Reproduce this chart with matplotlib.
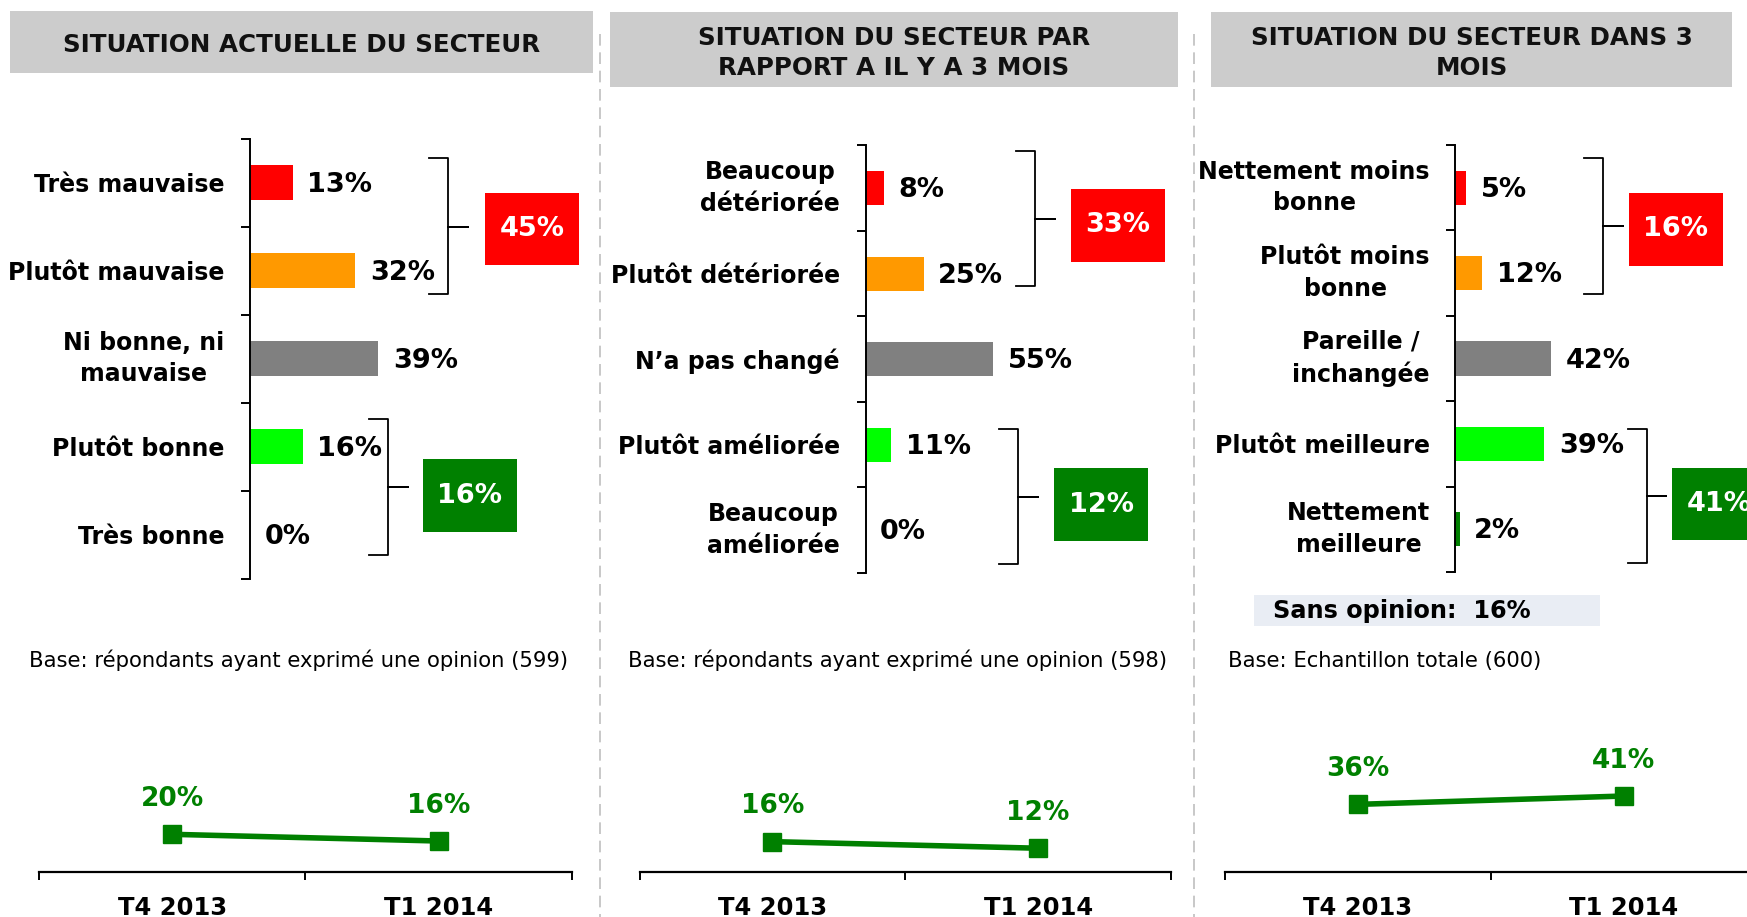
import matplotlib
matplotlib.use("Agg")
import matplotlib.pyplot as plt
from matplotlib.lines import Line2D
from matplotlib.patches import Rectangle
import numpy as np

# ---------------- data ----------------
titles = ["SITUATION ACTUELLE DU SECTEUR",
          "SITUATION DU SECTEUR PAR\nRAPPORT A IL Y A 3 MOIS",
          "SITUATION DU SECTEUR DANS 3\nMOIS"]

p1_cats = ["Très mauvaise", "Plutôt mauvaise", "Ni bonne, ni\nmauvaise", "Plutôt bonne", "Très bonne"]
p1_vals = [13, 32, 39, 16, 0]
p1_groups = [45, 16]

p2_cats = ["Beaucoup\ndétériorée", "Plutôt détériorée", "N’a pas changé", "Plutôt améliorée", "Beaucoup\naméliorée"]
p2_vals = [8, 25, 55, 11, 0]
p2_groups = [33, 12]

p3_cats = ["Nettement moins\nbonne", "Plutôt moins\nbonne", "Pareille /\ninchangée", "Plutôt meilleure", "Nettement\nmeilleure"]
p3_vals = [5, 12, 42, 39, 2]
p3_groups = [16, 41]

sans_opinion = 16

bases = ["Base: répondants ayant exprimé une opinion (599)",
         "Base: répondants ayant exprimé une opinion (598)",
         "Base: Echantillon totale (600)"]

periods = ["T4 2013", "T1 2014"]
trend1 = [20, 16]
trend2 = [16, 12]
trend3 = [36, 41]

bar_colors = ["#FF0000", "#FF9900", "#808080", "#00FF00", "#008000"]
neg_color = "#FF0000"
pos_color = "#008000"
line_color = "#008000"
header_color = "#CCCCCC"

# ---------------- layout helpers ----------------
W, H = 1747, 917
fig = plt.figure(figsize=(W / 100, H / 100), dpi=100)
fig.patch.set_facecolor("white")


def fx(x):
    return x / W


def fy(y):
    return 1 - y / H


def add_ax(x0, y0, x1, y1):
    return fig.add_axes([fx(x0), fy(y1), (x1 - x0) / W, (y1 - y0) / H])


BOLD = 17
HEAD = 17.7
VAL = 19.5

# ---------------- headers ----------------
header_boxes = [(10, 11.5, 593, 72.5), (610, 11.5, 1178, 87), (1211, 11.5, 1732, 87)]
for (x0, y0, x1, y1), t in zip(header_boxes, titles):
    fig.patches.append(Rectangle((fx(x0), fy(y1)), (x1 - x0) / W, (y1 - y0) / H,
                                 transform=fig.transFigure, facecolor=header_color,
                                 edgecolor="none", zorder=0))
    fig.text(fx((x0 + x1) / 2), fy((y0 + y1) / 2 + 3.5), t, ha="center", va="center",
             fontsize=HEAD, fontweight="bold", linespacing=1.3, color="#111111")

# ---------------- dashed separators ----------------
for xs in (600, 1194):
    fig.lines.append(Line2D([fx(xs), fx(xs)], [fy(34), fy(917)], transform=fig.transFigure,
                            color="#BFBFBF", lw=1.2, dashes=(7, 4)))


# ---------------- bar panels ----------------
def bar_panel(box, xmax, cats, vals, label_pad):
    x0, y0, x1, y1 = box
    ax = add_ax(x0, y0, x1, y1)
    y = np.arange(len(cats))
    ax.barh(y, vals, height=0.4, color=bar_colors, edgecolor="none")
    ax.set_ylim(len(cats) - 0.5, -0.5)
    ax.set_xlim(0, xmax)
    for s in ("top", "right", "bottom"):
        ax.spines[s].set_visible(False)
    ax.spines["left"].set_linewidth(1.4)
    ax.set_xticks([])
    ax.set_yticks(np.arange(-0.5, len(cats)), labels=[])
    ax.set_yticks(y, labels=cats, minor=True)
    ax.tick_params(axis="y", which="major", length=6.5, width=1.4, direction="out")
    ax.tick_params(axis="y", which="minor", length=0, pad=label_pad, labelsize=BOLD)
    for lbl in ax.get_yticklabels(minor=True):
        lbl.set_fontweight("bold")
        lbl.set_multialignment("center")
        lbl.set_linespacing(1.4)
        if "\n" in lbl.get_text():
            lbl.set_verticalalignment("center")
    for yi, v in zip(y, vals):
        ax.annotate(f"{v}%", (v, yi), xytext=(10.5, -1.5), textcoords="offset points",
                    ha="left", va="center", fontsize=VAL, fontweight="bold")
    ax.patch.set_alpha(0)
    return ax


def bracket(x0, x1, x2, ytop, ymid, ybot):
    xs = [x0, x1, x1, x2, x1, x1, x0]
    ys = [ytop, ytop, ymid, ymid, ymid, ybot, ybot]
    fig.lines.append(Line2D([fx(v) for v in xs], [fy(v) for v in ys],
                            transform=fig.transFigure, color="black", lw=1.3,
                            solid_joinstyle="round"))


def group_box(x0, y0, x1, y1, color, value):
    fig.patches.append(Rectangle((fx(x0), fy(y1)), (x1 - x0) / W, (y1 - y0) / H,
                                 transform=fig.transFigure, facecolor=color,
                                 edgecolor="none", zorder=1))
    fig.text(fx((x0 + x1) / 2), fy((y0 + y1) / 2), f"{value}%", ha="center", va="center",
             fontsize=VAL, fontweight="bold", color="white", zorder=2)


bar_panel((250, 138.5, 590, 578.6), 340 / 3.29, p1_cats, p1_vals, 18.5)
bar_panel((865.5, 145.4, 1185, 573), 320 / 2.33, p2_cats, p2_vals, 18.5)
bar_panel((1455, 145, 1740, 572), 285 / 2.29, p3_cats, p3_vals, 18)

# brackets + group boxes
bracket(429, 448, 468, 158, 226.5, 294)
group_box(485, 193, 579, 265, neg_color, p1_groups[0])
bracket(369, 388, 408, 419, 487, 555)
group_box(423, 459, 517, 532, pos_color, p1_groups[1])

bracket(1015.5, 1034.5, 1055, 151, 219, 286)
group_box(1071, 189, 1165, 262, neg_color, p2_groups[0])
bracket(999.5, 1017.5, 1038, 428.5, 496.5, 563.5)
group_box(1054, 468, 1148, 541, pos_color, p2_groups[1])

bracket(1584, 1603, 1623, 158, 226, 294)
group_box(1629, 193, 1723, 266, neg_color, p3_groups[0])
bracket(1628, 1647, 1666, 429.5, 495.5, 563)
group_box(1672, 468, 1766, 540, pos_color, p3_groups[1])

# sans opinion
fig.patches.append(Rectangle((fx(1254), fy(626)), (1600 - 1254) / W, (626 - 594.6) / H,
                             transform=fig.transFigure, facecolor="#E9EDF4",
                             edgecolor="none", zorder=0))
fig.text(fx(1273), fy(611), f"Sans opinion:  {sans_opinion}%", ha="left", va="center",
         fontsize=BOLD + 0.3, fontweight="bold")

# base texts
for xb, t in zip((28.7, 628.4, 1228.5), bases):
    fig.text(fx(xb), fy(660.5), t, ha="left", va="center", fontsize=15.2)


# ---------------- trend panels ----------------
def trend_panel(x0, x1, ylo, yhi, vals):
    ax = add_ax(x0, 700, x1, 872)
    xi = np.arange(len(periods))
    ax.plot(xi, vals, color=line_color, lw=4, marker="s", markersize=13.5,
            markeredgecolor=line_color, clip_on=False)
    for xv, v in zip(xi, vals):
        ax.annotate(f"{v}%", (xv, v), xytext=(0, 25.5), textcoords="offset points",
                    ha="center", va="center", fontsize=VAL - 0.5, fontweight="bold",
                    color=line_color)
    ax.set_xlim(-0.5, len(periods) - 0.5)
    ax.set_ylim(ylo, yhi)
    for s in ("top", "right", "left"):
        ax.spines[s].set_visible(False)
    ax.spines["bottom"].set_linewidth(1.6)
    ax.set_yticks([])
    ax.set_xticks(np.arange(-0.5, len(periods)), labels=[])
    ax.set_xticks(xi, labels=periods, minor=True)
    ax.tick_params(axis="x", which="major", length=5.5, width=1.4, direction="out")
    ax.tick_params(axis="x", which="minor", length=0, pad=17, labelsize=BOLD + 0.5)
    for lbl in ax.get_xticklabels(minor=True):
        lbl.set_fontweight("bold")
    ax.patch.set_alpha(0)
    return ax


trend_panel(39, 571.8, -2.5, 100.2, trend1)
trend_panel(639.5, 1171, -2.4, 101.8, trend2)
trend_panel(1224.7, 1757, -4.5, 98.5, trend3)

fig.savefig("out.png", dpi=100)
